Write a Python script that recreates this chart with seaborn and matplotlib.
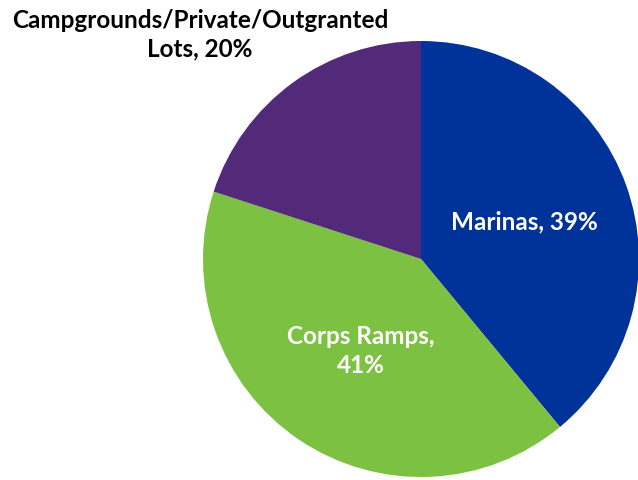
import numpy as np
import seaborn as sns
import matplotlib.pyplot as plt

sns.set_style('white')
plt.rcParams['font.family'] = ['Lato', 'DejaVu Sans']

categories = ['Marinas', 'Corps Ramps', 'Campgrounds/Private/Outgranted\nLots']
shares = [39, 41, 20]
colors = sns.color_palette(['#003399', '#7DC142', '#532A7A'])

fig = plt.figure(figsize=(6.38, 4.81), dpi=100)
ax = fig.add_axes([0, 0, 1, 1])

# pie centred at pixel (421, 260), radius 218 px
r = 218
ax.pie(shares, colors=colors, startangle=90, counterclock=False,
       radius=1, center=(0, 0), wedgeprops=dict(linewidth=0))
ax.set_xlim(-421 / r, (638 - 421) / r)
ax.set_ylim(-(481 - 260) / r, 260 / r)
ax.set_aspect('auto')
ax.axis('off')

def px(x, y):
    return (x - 421) / r, (260 - y) / r

fs = 17.5
ax.text(*px(524, 222), f'{categories[0]}, {shares[0]}%', color='white',
        fontsize=fs, fontweight='bold', ha='center', va='center')
ax.text(*px(361, 351), f'{categories[1]},\n{shares[1]}%', color='white',
        fontsize=fs, fontweight='bold', ha='center', va='center',
        linespacing=1.3)
ax.text(*px(200, 35), f'{categories[2]}, {shares[2]}%', color='black',
        fontsize=fs, fontweight='bold', ha='center', va='center',
        linespacing=1.3)

fig.savefig('out.png', dpi=100)
